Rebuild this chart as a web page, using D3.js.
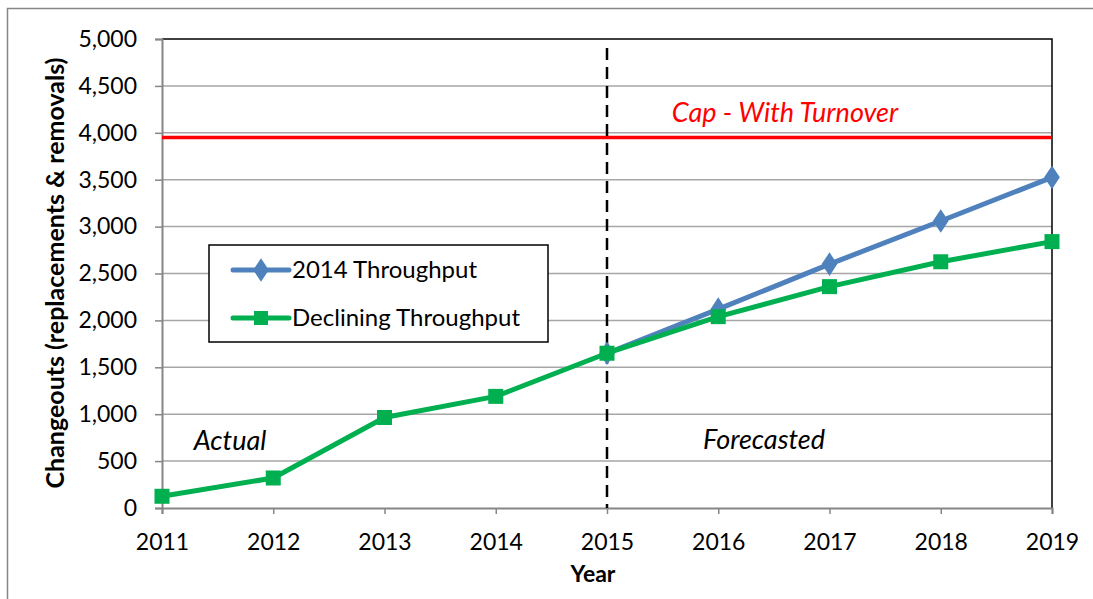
<!DOCTYPE html>
<html>
<head>
<meta charset="utf-8">
<script src="https://cdn.jsdelivr.net/npm/d3@7"></script>
<style>
  body { margin: 0; background: #fff; }
  svg text { font-family: Lato, 'Open Sans', sans-serif; fill: #000; }
</style>
</head>
<body>
<script>
// data
const years = [2011, 2012, 2013, 2014, 2015, 2016, 2017, 2018, 2019]
// the 2014 throughput series only shows from 2015 (earlier years sit under the green one)
const throughput2014 = [null, null, null, null, 1650, 2120, 2600, 3060, 3525]
const decliningThroughput = [125, 320, 965, 1190, 1650, 2040, 2360, 2625, 2840]
const capValue = 3950
const forecastStart = 2015
const yTicks = [0, 500, 1000, 1500, 2000, 2500, 3000, 3500, 4000, 4500, 5000]

const width = 1093
const height = 599
const margin = { top: 39, right: 41, bottom: 91, left: 162 }
const innerW = width - margin.left - margin.right
const innerH = height - margin.top - margin.bottom

const blue = '#4f81bd'
const green = '#00b050'

const svg = d3.select('body').append('svg')
  .attr('width', width)
  .attr('height', height)

// outer chart frame (runs off the right and bottom edges)
svg.append('path')
  .attr('d', 'M7.5,' + (height + 5) + 'V8.5H' + (width + 5))
  .attr('fill', 'none')
  .attr('stroke', '#868686')
  .attr('stroke-width', 1.5)

const g = svg.append('g')
  .attr('transform', 'translate(' + margin.left + ',' + margin.top + ')')

const x = d3.scaleLinear().domain([2011, 2019]).range([0, innerW])
const y = d3.scaleLinear().domain([0, 5000]).range([innerH, 0])

// gridlines
g.append('g')
  .selectAll('line')
  .data(yTicks.filter(d => d > 0 && d < 5000))
  .enter().append('line')
  .attr('x1', 0).attr('x2', innerW)
  .attr('y1', d => y(d)).attr('y2', d => y(d))
  .attr('stroke', '#a6a6a6')
  .attr('stroke-width', 1.5)

// plot area border (top and right black)
g.append('path')
  .attr('d', 'M0,0H' + innerW + 'V' + innerH)
  .attr('fill', 'none')
  .attr('stroke', '#000')
  .attr('stroke-width', 1.5)

// axes
const yaxis = d3.axisLeft(y)
  .tickValues(yTicks)
  .tickSize(7)
  .tickPadding(18)
  .tickFormat(d3.format(','))
const xaxis = d3.axisBottom(x)
  .tickValues(years)
  .tickSize(6)
  .tickPadding(20)
  .tickFormat(d3.format('d'))

g.append('g')
  .attr('class', 'axis')
  .call(yaxis)
g.append('g')
  .attr('class', 'axis')
  .attr('transform', 'translate(0,' + innerH + ')')
  .call(xaxis)

svg.selectAll('.axis path')
  .style('stroke', '#868686')
  .style('stroke-width', 2)
svg.selectAll('.axis line')
  .style('stroke', '#868686')
  .style('stroke-width', 1.5)
svg.selectAll('.axis text')
  .style('font-size', '23px')
  .style('fill', '#000')

// cap line
g.append('line')
  .attr('x1', 0).attr('x2', innerW)
  .attr('y1', y(capValue)).attr('y2', y(capValue))
  .attr('stroke', '#ff0000')
  .attr('stroke-width', 3.5)

g.append('text')
  .attr('x', 785 - margin.left).attr('y', 122 - margin.top)
  .attr('text-anchor', 'middle')
  .style('font-size', '27px')
  .style('font-style', 'italic')
  .style('fill', '#ff0000')
  .text('Cap - With Turnover')

// forecast divider
g.append('line')
  .attr('x1', x(forecastStart)).attr('x2', x(forecastStart))
  .attr('y1', 9).attr('y2', innerH)
  .attr('stroke', '#000')
  .attr('stroke-width', 2.5)
  .attr('stroke-dasharray', '12,7')

// series
const line = d3.line()
  .defined(d => d != null)
  .x((d, i) => x(years[i]))
  .y(d => y(d))

g.append('path')
  .attr('d', line(throughput2014))
  .attr('fill', 'none')
  .attr('stroke', blue)
  .attr('stroke-width', 5)
  .attr('stroke-linejoin', 'round')

const diamond = d3.symbol().type(d3.symbolDiamond).size(160)
g.append('g')
  .selectAll('path')
  .data(years.map((yr, i) => ({ yr, v: throughput2014[i] })).filter(d => d.v != null))
  .enter().append('path')
  .attr('d', diamond)
  .attr('transform', d => 'translate(' + x(d.yr) + ',' + y(d.v) + ') scale(1.15,1)')
  .attr('fill', blue)

g.append('path')
  .attr('d', line(decliningThroughput))
  .attr('fill', 'none')
  .attr('stroke', green)
  .attr('stroke-width', 5)
  .attr('stroke-linejoin', 'round')

g.append('g')
  .selectAll('rect')
  .data(decliningThroughput)
  .enter().append('rect')
  .attr('x', (d, i) => x(years[i]) - 7.5)
  .attr('y', d => y(d) - 7.5)
  .attr('width', 15).attr('height', 15)
  .attr('fill', green)

// region labels
g.append('text')
  .attr('x', 230 - margin.left).attr('y', 450 - margin.top)
  .attr('text-anchor', 'middle')
  .style('font-size', '27px')
  .style('font-style', 'italic')
  .text('Actual')

g.append('text')
  .attr('x', 764 - margin.left).attr('y', 449 - margin.top)
  .attr('text-anchor', 'middle')
  .style('font-size', '27px')
  .style('font-style', 'italic')
  .text('Forecasted')

// axis titles
svg.append('text')
  .attr('transform', 'translate(64,' + 273 + ') rotate(-90)')
  .attr('text-anchor', 'middle')
  .style('font-size', '25px')
  .style('font-weight', 'bold')
  .text('Changeouts (replacements & removals)')

svg.append('text')
  .attr('x', 593).attr('y', 582)
  .attr('text-anchor', 'middle')
  .style('font-size', '23px')
  .style('font-weight', 'bold')
  .text('Year')

// legend
const legend = svg.append('g').attr('transform', 'translate(209,245)')
legend.append('rect')
  .attr('width', 339).attr('height', 97)
  .attr('fill', '#fff')
  .attr('stroke', '#000')
  .attr('stroke-width', 1.5)

const legendItems = [
  { name: '2014 Throughput', color: blue, shape: 'diamond', yPos: 25 },
  { name: 'Declining Throughput', color: green, shape: 'square', yPos: 73 }
]
legendItems.forEach(item => {
  legend.append('line')
    .attr('x1', 24).attr('x2', 80)
    .attr('y1', item.yPos).attr('y2', item.yPos)
    .attr('stroke', item.color)
    .attr('stroke-width', 5)
    .attr('stroke-linecap', 'round')
  if (item.shape === 'diamond') {
    legend.append('path')
      .attr('d', diamond)
      .attr('transform', 'translate(52,' + item.yPos + ') scale(1.15,1)')
      .attr('fill', item.color)
  } else {
    legend.append('rect')
      .attr('x', 45).attr('y', item.yPos - 7)
      .attr('width', 14).attr('height', 14)
      .attr('fill', item.color)
  }
  legend.append('text')
    .attr('x', 83).attr('y', item.yPos)
    .attr('dy', '0.35em')
    .style('font-size', '24px')
    .text(item.name)
})
</script>
</body>
</html>
